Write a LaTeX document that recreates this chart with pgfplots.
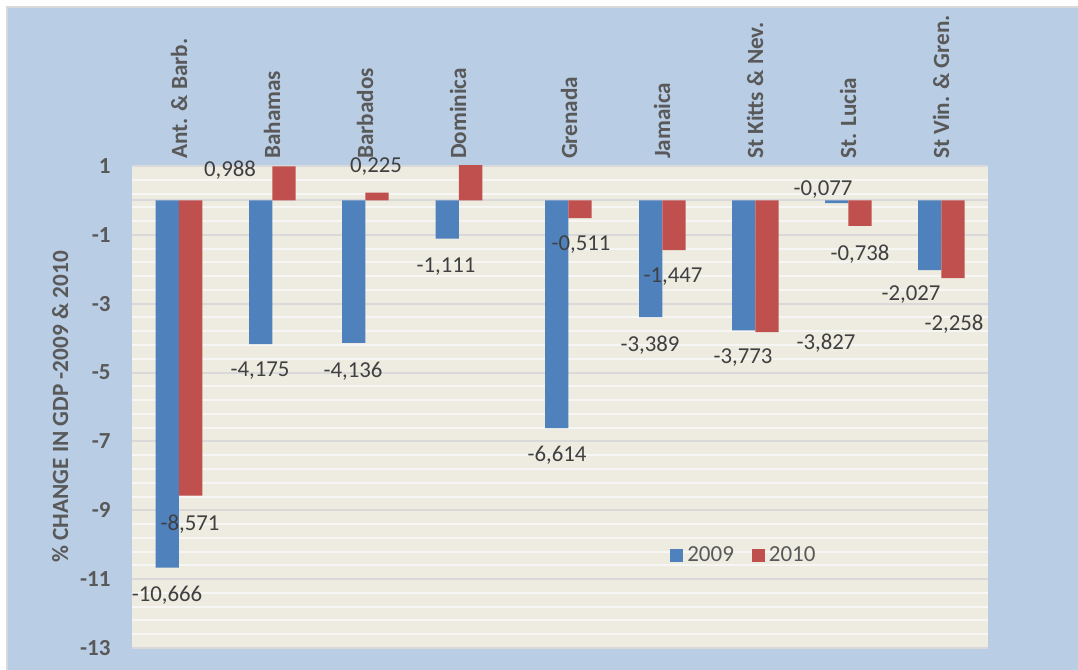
\documentclass[border=0pt]{standalone}
\usepackage{pgfplots}
\pgfplotsset{compat=1.18}
\usepackage{fontspec}
\setmainfont{Carlito}
\definecolor{bgblue}{HTML}{B9CDE5}
\definecolor{plotbg}{HTML}{EEECE1}
\definecolor{gridmaj}{HTML}{D9D9D9}
\definecolor{gridmin}{HTML}{F6F6F4}
\definecolor{b09}{HTML}{4F81BD}
\definecolor{r10}{HTML}{C0504D}
\definecolor{txt}{HTML}{595959}
\definecolor{lbltxt}{HTML}{404040}
\tikzset{lbl/.style={font=\fontsize{11.4}{13}\selectfont, text=lbltxt, inner sep=0pt, anchor=center}}
\begin{document}
\begin{tikzpicture}[x=1pt,y=1pt]
\fill[white] (0,0) rectangle (539,335);
\fill[gridmaj] (3,0) rectangle (539,332);
\fill[bgblue] (4,0) rectangle (539,331);
\begin{axis}[
  at={(66pt,11pt)}, anchor=south west,
  scale only axis, width=428pt, height=241pt,
  xmin=132, xmax=988, ymin=-13, ymax=1,
  clip mode=individual,
  axis background/.style={fill=plotbg},
  axis line style={draw=none},
  major tick length=0pt, minor tick length=0pt,
  ytick={-13,-11,-9,-7,-5,-3,-1,1},
  yticklabels={-13,-11,-9,-7,-5,-3,-1,1},
  minor y tick num=4,
  ymajorgrids, yminorgrids,
  major grid style={draw=gridmaj, line width=1pt},
  minor grid style={draw=gridmin, line width=1pt},
  extra y ticks={0}, extra y tick labels={},
  extra y tick style={grid=major, major grid style={draw=gridmaj, line width=1pt}},
  yticklabel style={font=\fontsize{11.5}{13}\selectfont\bfseries, text=txt, anchor=east, xshift=-7.2pt},
  xtick={179,272,365,458,569,662,755,848,941},
  xticklabels={Ant. \& Barb., Bahamas, Barbados, Dominica, Grenada, Jamaica, St Kitts \& Nev., St. Lucia, St Vin. \& Gren.},
  xticklabel pos=right,
  xticklabel style={rotate=90, anchor=west, font=\fontsize{11.6}{13}\selectfont\bfseries, text=txt},
  ylabel={\% CHANGE IN GDP -2009 \& 2010},
  ylabel style={at={(axis description cs:-0.084,0.5)}, anchor=center, font=\fontsize{11.6}{13}\selectfont\bfseries, text=txt},
  legend style={at={(axis description cs:0.716,0.191)}, anchor=center, draw=none, fill=none,
    legend columns=2, font=\fontsize{11.5}{13}\selectfont, text=txt,
    /tikz/every even column/.append style={column sep=7pt}},
]
\addplot[ybar, bar width=23.3, bar shift=0pt, fill=b09, draw=none,
  legend image code/.code={\fill[b09] (0pt,-3.25pt) rectangle (6.5pt,3.25pt);}]
  coordinates {(167.3,-10.666) (260.7,-4.175) (353.7,-4.136) (447.3,-1.111) (556.7,-6.614)
               (650.7,-3.389) (743.7,-3.773) (836.7,-0.077) (929.7,-2.027)};
\addlegendentry{2009}
\addplot[ybar, bar width=23.3, bar shift=0pt, fill=r10, draw=none,
  legend image code/.code={\fill[r10] (0pt,-3.25pt) rectangle (6.5pt,3.25pt);}]
  coordinates {(190.6,-8.571) (284.0,0.988) (377.0,0.225) (470.6,1.2) (580.0,-0.511)
               (674.0,-1.447) (767.0,-3.827) (860.0,-0.738) (953.0,-2.258)};
\addlegendentry{2010}
\node[lbl] at (axis cs:230,0.883) {0,988};
\node[lbl] at (axis cs:376,0.970) {0,225};
\node[lbl] at (axis cs:446,-1.934) {-1,111};
\node[lbl] at (axis cs:260,-4.955) {-4,175};
\node[lbl] at (axis cs:353,-4.955) {-4,136};
\node[lbl] at (axis cs:190,-9.39) {-8,571};
\node[lbl] at (axis cs:167,-11.48) {-10,666};
\node[lbl] at (axis cs:557,-7.39) {-6,614};
\node[lbl] at (axis cs:581,-1.295) {-0,511};
\node[lbl] at (axis cs:673,-2.225) {-1,447};
\node[lbl] at (axis cs:650,-4.20) {-3,389};
\node[lbl] at (axis cs:743,-4.55) {-3,773};
\node[lbl] at (axis cs:826,-4.14) {-3,827};
\node[lbl] at (axis cs:823,0.302) {-0,077};
\node[lbl] at (axis cs:860,-1.557) {-0,738};
\node[lbl] at (axis cs:911,-2.747) {-2,027};
\node[lbl] at (axis cs:954,-3.59) {-2,258};
\end{axis}
\end{tikzpicture}
\end{document}
